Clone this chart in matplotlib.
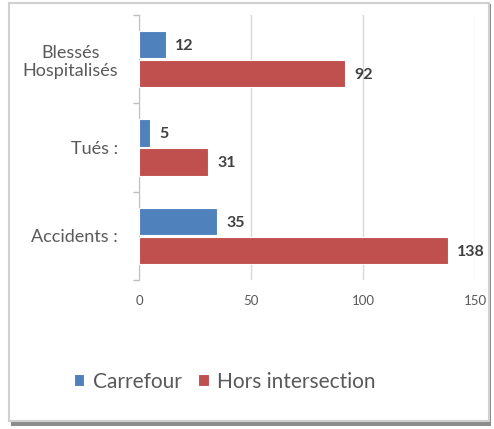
import matplotlib.pyplot as plt
from matplotlib.patches import Rectangle
import numpy as np

plt.rcParams['font.family'] = ['Lato', 'DejaVu Sans']

categories = ['Accidents :', 'Tués :', 'Blessés\nHospitalisés']
carrefour = [35, 5, 12]
hors_intersection = [138, 31, 92]
series_names = ['Carrefour', 'Hors intersection']
colors = ['#4F81BD', '#C0504D']

fig = plt.figure(figsize=(4.94, 4.29), dpi=100)

# frame with shadow
fig.patches.append(Rectangle((0.022, 0.008), 0.972, 0.982, transform=fig.transFigure,
                             facecolor='#8c8c8c', edgecolor='none', zorder=-2))
fig.patches.append(Rectangle((0.018, 0.018), 0.972, 0.975, transform=fig.transFigure,
                             facecolor='white', edgecolor='#d0d0d0', linewidth=1.5, zorder=-1))

ax = fig.add_axes([0.2814, 0.3473, 0.680, 0.6177])
y = np.arange(len(categories))
h = 0.31
off = 0.165
b1 = ax.barh(y + off, carrefour, h, color=colors[0], edgecolor='white', linewidth=0.8,
             label=series_names[0], zorder=3)
b2 = ax.barh(y - off, hors_intersection, h, color=colors[1], edgecolor='white', linewidth=0.8,
             label=series_names[1], zorder=3)

for bars in (b1, b2):
    for rect in bars:
        w = rect.get_width()
        ax.annotate(f'{int(w)}', (w, rect.get_y() + rect.get_height() / 2),
                    xytext=(6.5, -1), textcoords='offset points', ha='left', va='center',
                    fontsize=11.5, fontweight='bold', color='#404040')

ax.set_xlim(0, 150)
ax.set_ylim(-0.5, 2.5)
ax.set_xticks([0, 50, 100, 150])
ax.tick_params(axis='x', length=0, pad=11, labelsize=9.5, labelcolor='#595959')
ax.set_yticks(y)
ax.set_yticklabels(categories)
ax.tick_params(axis='y', which='major', length=0, pad=15, labelsize=13, labelcolor='#595959')
ax.set_yticks([-0.5, 0.5, 1.5, 2.5], minor=True)
ax.tick_params(axis='y', which='minor', length=4, color='#bfbfbf', width=1)
for lab in ax.get_yticklabels():
    lab.set_multialignment('center')

ax.grid(axis='x', color='#d9d9d9', linewidth=1, zorder=0)
for s in ['top', 'right', 'bottom']:
    ax.spines[s].set_visible(False)
ax.spines['left'].set_color('#bfbfbf')
ax.set_facecolor('none')

fig.legend(handles=[b1, b2], labels=series_names, loc='center',
           bbox_to_anchor=(0.455, 0.11), ncol=2, frameon=False, fontsize=15,
           handlelength=0.5, handleheight=0.5, handletextpad=0.4, columnspacing=0.8,
           labelcolor='#595959')

fig.savefig('out.png', dpi=100)
